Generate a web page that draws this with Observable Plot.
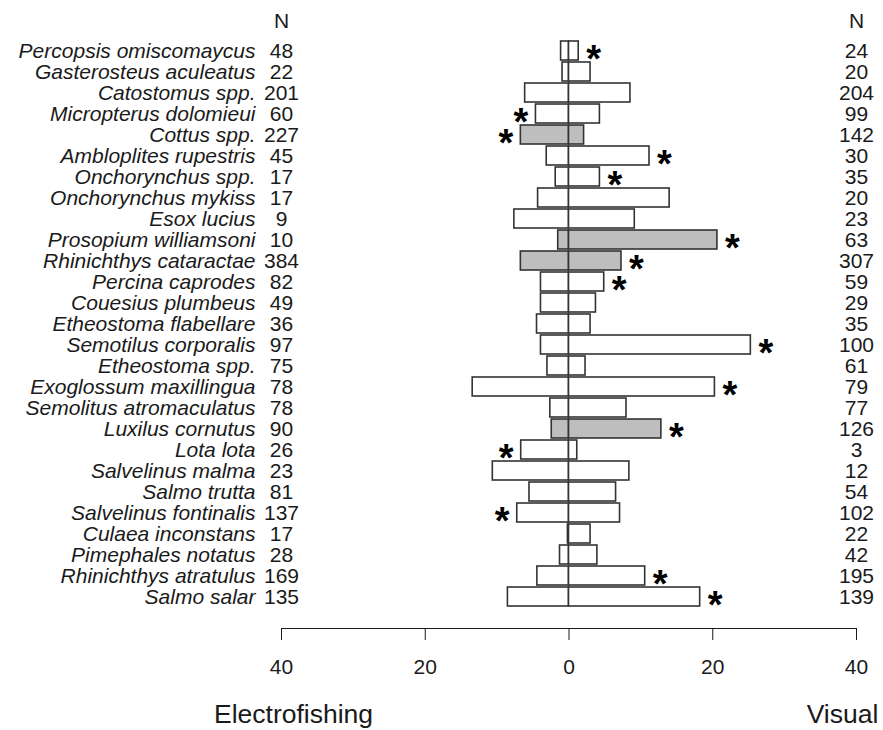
<!DOCTYPE html>
<html>
<head>
<meta charset="utf-8">
<script src="https://cdn.jsdelivr.net/npm/d3@7"></script>
<script src="https://cdn.jsdelivr.net/npm/@observablehq/plot@0.6"></script>
<style>
  html, body { margin: 0; padding: 0; background: white; }
</style>
</head>
<body>
<div id="chart"></div>
<script>
const species = [
  "Percopsis omiscomaycus", "Gasterosteus aculeatus", "Catostomus spp.", "Micropterus dolomieui",
  "Cottus spp.", "Ambloplites rupestris", "Onchorynchus spp.", "Onchorynchus mykiss",
  "Esox lucius", "Prosopium williamsoni", "Rhinichthys cataractae", "Percina caprodes",
  "Couesius plumbeus", "Etheostoma flabellare", "Semotilus corporalis", "Etheostoma spp.",
  "Exoglossum maxillingua", "Semolitus atromaculatus", "Luxilus cornutus", "Lota lota",
  "Salvelinus malma", "Salmo trutta", "Salvelinus fontinalis", "Culaea inconstans",
  "Pimephales notatus", "Rhinichthys atratulus", "Salmo salar"
];
const nElectro = [48, 22, 201, 60, 227, 45, 17, 17, 9, 10, 384, 82, 49, 36, 97, 75, 78, 78, 90, 26, 23, 81, 137, 17, 28, 169, 135];
const nVisual = [24, 20, 204, 99, 142, 30, 35, 20, 23, 63, 307, 59, 29, 35, 100, 61, 79, 77, 126, 3, 12, 54, 102, 22, 42, 195, 139];
const electro = [1.1, 0.9, 6.1, 4.6, 6.7, 3.1, 1.85, 4.3, 7.6, 1.5, 6.7, 3.9, 3.9, 4.45, 3.9, 3.0, 13.4, 2.6, 2.4, 6.65, 10.6, 5.5, 7.2, 0.15, 1.25, 4.4, 8.5];
const visual = [1.35, 3.0, 8.55, 4.3, 2.1, 11.2, 4.3, 14.0, 9.15, 20.65, 7.3, 4.9, 3.75, 3.0, 25.3, 2.3, 20.3, 8.0, 12.85, 1.15, 8.4, 6.55, 7.1, 3.0, 3.95, 10.6, 18.25];
const highlighted = ["Cottus spp.", "Prosopium williamsoni", "Rhinichthys cataractae", "Luxilus cornutus"];
const starSide = ["R", "", "", "L", "L", "R", "R", "", "", "R", "R", "R", "", "", "R", "", "R", "", "R", "L", "", "", "L", "", "", "R", "R"];
const ticks = [-40, -20, 0, 20, 40];

const data = species.map((s, i) => ({
  species: s,
  left: -electro[i],
  right: visual[i],
  nE: nElectro[i],
  nV: nVisual[i],
  fill: highlighted.includes(s) ? "#bebebe" : "white",
  star: starSide[i]
}));

const ink = "#1a1a1a";
const chart = Plot.plot({
  width: 883,
  height: 730,
  marginLeft: 281,
  marginRight: 27,
  marginTop: 0,
  marginBottom: 102,
  style: { fontFamily: "'Liberation Sans', Arial, sans-serif", fontSize: "21px", color: ink, background: "white" },
  x: { domain: [-40, 40] },
  y: { domain: species, range: [36.4, 609.7], padding: 0.1, axis: null },
  color: { type: "identity" },
  marks: [
    Plot.barX(data, { y: "species", x1: "left", x2: () => 0, fill: "fill", stroke: "#333", strokeWidth: 1.6 }),
    Plot.barX(data, { y: "species", x1: () => 0, x2: "right", fill: "fill", stroke: "#333", strokeWidth: 1.6 }),
    Plot.text(data, { x: () => -40, y: "species", text: "species", textAnchor: "end", dx: -26, fontStyle: "italic", fontSize: 21, fill: ink }),
    Plot.text(data, { x: () => -40, y: "species", text: "nE", fontSize: 21, fill: ink }),
    Plot.text(data, { x: () => 40, y: "species", text: "nV", fontSize: 21, fill: ink }),
    Plot.text(["N", "N"], { x: [-40, 40], text: d => d, frameAnchor: "top", lineAnchor: "middle", dy: 21, fontSize: 21, fill: ink }),
    Plot.text(data.filter(d => d.star === "R"), { x: "right", y: "species", text: () => "*", dx: 15, dy: 9, fontSize: 38, fontWeight: "bold", fill: "black" }),
    Plot.text(data.filter(d => d.star === "L"), { x: "left", y: "species", text: () => "*", dx: -15, dy: 9, fontSize: 38, fontWeight: "bold", fill: "black" }),
    Plot.frame({ anchor: "bottom", stroke: ink }),
    Plot.axisX({ ticks, tickFormat: d => Math.abs(d), tickSize: 12, tickPadding: 19, fontSize: 21, label: null, stroke: ink }),
    Plot.text(["Electrofishing"], { x: [-40], text: d => d, frameAnchor: "bottom", lineAnchor: "middle", dx: 12, dy: 86, fontSize: 26.5, fill: ink }),
    Plot.text(["Visual"], { x: [40], text: d => d, frameAnchor: "bottom", lineAnchor: "middle", dx: -14, dy: 86, fontSize: 26.5, fill: ink })
  ]
});
document.getElementById("chart").appendChild(chart);
</script>
</body>
</html>
